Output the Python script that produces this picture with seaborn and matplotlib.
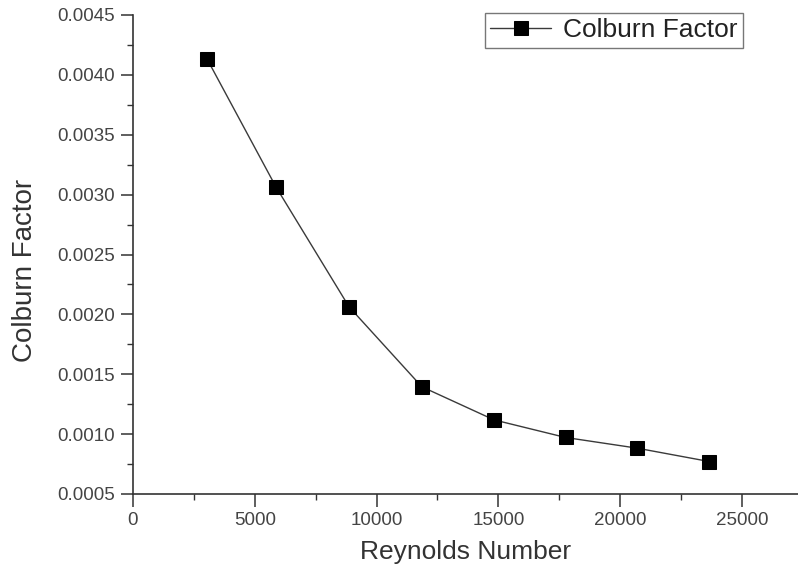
import matplotlib
matplotlib.use("Agg")
import matplotlib.pyplot as plt
from matplotlib.ticker import MultipleLocator, FormatStrFormatter
import seaborn as sns
import pandas as pd

# Colburn factor vs. Reynolds number
reynolds = [3040, 5870, 8870, 11860, 14820, 17760, 20690, 23660]
colburn = [0.004133, 0.003064, 0.002063, 0.001395, 0.001119, 0.000972, 0.000883, 0.000771]
series_name = "Colburn Factor"

df = pd.DataFrame({"Reynolds Number": reynolds, "Colburn Factor": colburn,
                   "series": series_name})

sns.set_style("ticks")
plt.rcParams["font.family"] = ["Liberation Sans", "DejaVu Sans"]

fig = plt.figure(figsize=(7.98, 5.72), dpi=100)
ax = fig.add_axes([133 / 798, 1 - 494 / 572, 1 - 133 / 798, (494 - 15) / 572])

sns.lineplot(data=df, x="Reynolds Number", y="Colburn Factor", hue="series",
             palette=["#111111"], marker="s", markersize=10.5, markeredgecolor="#000000",
             markerfacecolor="#000000", linewidth=1.0, ax=ax, legend=True)
for line in ax.lines:
    line.set_color("#3a3a3a")
    line.set_markerfacecolor("#000000")
    line.set_markeredgecolor("#000000")

ax.set_xlim(0, 27300)
ax.set_ylim(0.0005, 0.0045)
ax.xaxis.set_major_locator(MultipleLocator(5000))
ax.xaxis.set_minor_locator(MultipleLocator(2500))
ax.yaxis.set_major_locator(MultipleLocator(0.0005))
ax.yaxis.set_minor_locator(MultipleLocator(0.00025))
ax.yaxis.set_major_formatter(FormatStrFormatter("%.4f"))
ax.xaxis.set_major_formatter(FormatStrFormatter("%d"))

sns.despine(ax=ax)
for side in ("left", "bottom"):
    ax.spines[side].set_color("#333333")
    ax.spines[side].set_linewidth(1.2)

ax.tick_params(which="major", direction="out", length=9, width=1.1, color="#333333",
               labelsize=13.5, labelcolor="#444444", pad=4)
ax.tick_params(which="minor", direction="out", length=4.5, width=1.0, color="#333333")

ax.set_xlabel("Reynolds Number", fontsize=19, color="#333333", labelpad=8)
ax.set_ylabel("Colburn Factor", fontsize=20, color="#333333")
ax.yaxis.set_label_coords(-0.1425, 0.466)

leg = ax.legend(loc="upper left", bbox_to_anchor=(485 / 798, 1 - 13 / 572),
                bbox_transform=fig.transFigure, fontsize=19, frameon=True,
                fancybox=False, shadow=False, handlelength=2.3, handletextpad=0.45,
                borderpad=0.2, borderaxespad=0)
leg.get_frame().set_edgecolor("#555555")
leg.get_frame().set_linewidth(1.0)
for t in leg.get_texts():
    t.set_color("#222222")

fig.savefig("out.png", dpi=100)
